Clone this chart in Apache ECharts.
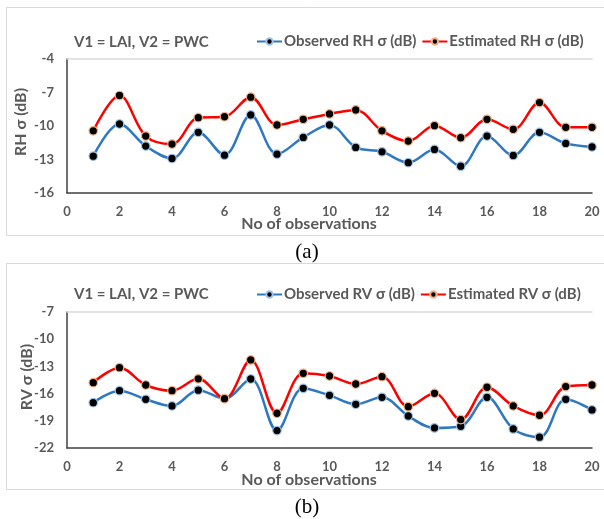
<!DOCTYPE html>
<html><head><meta charset="utf-8">
<script src="https://cdn.jsdelivr.net/npm/echarts@6/dist/echarts.min.js"></script>
<style>html,body{margin:0;padding:0;background:#fff}#c{width:604px;height:519px}</style>
</head><body><div id="c"></div>
<script>
// ---- data ----
const obsNo = [1,2,3,4,5,6,7,8,9,10,11,12,13,14,15,16,17,18,19,20];
const xTicks = [0,2,4,6,8,10,12,14,16,18,20];
const rhTicks = [-4,-7,-10,-13,-16];
const rvTicks = [-7,-10,-13,-16,-19,-22];
const observedRH = [-12.70,-9.82,-11.80,-12.91,-10.57,-12.61,-9.01,-12.52,-11.02,-9.91,-11.92,-12.31,-13.28,-12.10,-13.60,-10.90,-12.64,-10.57,-11.56,-11.87];
const estimatedRH = [-10.43,-7.27,-10.90,-11.62,-9.25,-9.17,-7.42,-9.91,-9.40,-8.92,-8.56,-10.43,-11.35,-9.97,-11.05,-9.40,-10.30,-7.90,-10.12,-10.12];
const observedRV = [-17.00,-15.68,-16.63,-17.36,-15.62,-16.56,-14.39,-20.08,-15.42,-16.19,-17.18,-16.41,-18.47,-19.79,-19.60,-16.41,-19.90,-20.81,-16.63,-17.80];
const estimatedRV = [-14.79,-13.14,-15.05,-15.68,-14.37,-16.56,-12.29,-18.17,-13.76,-14.06,-14.94,-14.13,-17.44,-15.97,-18.87,-15.30,-17.36,-18.39,-15.23,-15.05];
const subtitle = 'V1 = LAI, V2 = PWC';

const FONT = 'Lato, "Liberation Sans", sans-serif';
const GRAY = '#595959';
const BLUE = '#2E78C2';
const RED = '#FF0000';

function pts(vals){ return obsNo.map((x,i)=>[x, vals[i]]); }

const gridA = {left:67, top:59, right:12, height:134};
const gridB = {left:67, top:312, right:12, height:136};

function xAx(gi){
  return {type:'value', gridIndex:gi, min:xTicks[0], max:xTicks[xTicks.length-1], interval:xTicks[1]-xTicks[0],
    axisLine:{show:true, lineStyle:{color:'#404040', width:1.5}}, axisTick:{show:false}, splitLine:{show:false},
    axisLabel:{color:GRAY, fontFamily:FONT, fontWeight:'bold', fontSize:13, margin:12}};
}
function xTop(gi){
  return {type:'value', gridIndex:gi, position:'top', min:xTicks[0], max:xTicks[xTicks.length-1],
    axisLine:{show:true, lineStyle:{color:'#D9D9D9', width:1.5}}, axisTick:{show:false}, axisLabel:{show:false}, splitLine:{show:false}};
}
function yAx(gi, ticks){
  const mx = Math.max(...ticks), mn = Math.min(...ticks);
  return {type:'value', gridIndex:gi, min:mn, max:mx, interval:3,
    axisLine:{show:true, lineStyle:{color:'#404040', width:1.5}}, axisTick:{show:false}, splitLine:{show:false},
    axisLabel:{color:GRAY, fontFamily:FONT, fontWeight:'bold', fontSize:13, margin:13}};
}
function ser(name, vals, xi, yi, color, border){
  return {name, type:'line', xAxisIndex:xi, yAxisIndex:yi, data:pts(vals), smooth:0.35,
    symbol:'circle', symbolSize:8.5, lineStyle:{color, width:2.5},
    itemStyle:{color:'#000', borderColor:border, borderWidth:1.2}, emphasis:{disabled:true}, z:3};
}
function leg(top, names){
  return {left:256, top, itemWidth:25, itemHeight:8, itemGap:5, padding:0,
    textStyle:{color:GRAY, fontFamily:FONT, fontSize:15, fontWeight:'bold', padding:[0,0,0,-3]}, data:names};
}

const chart = echarts.init(document.getElementById('c'), null, {renderer:'canvas'});
chart.setOption({
  animation:false,
  grid:[gridA, gridB],
  xAxis:[xAx(0), xAx(1), xTop(0), xTop(1)],
  yAxis:[yAx(0, rhTicks), yAx(1, rvTicks)],
  legend:[leg(34, ['Observed RH σ (dB)','Estimated RH σ (dB)']), leg(287, ['Observed RV σ (dB)','Estimated RV σ (dB)'])],
  series:[
    ser('Observed RH σ (dB)', observedRH, 0, 0, BLUE, '#9DC3E6'),
    ser('Estimated RH σ (dB)', estimatedRH, 0, 0, RED, '#F4B183'),
    ser('Observed RV σ (dB)', observedRV, 1, 1, BLUE, '#9DC3E6'),
    ser('Estimated RV σ (dB)', estimatedRV, 1, 1, RED, '#F4B183')
  ],
  graphic:[
    {type:'rect', shape:{x:6.5, y:7.5, width:600, height:228}, style:{fill:null, stroke:'#D9D9D9', lineWidth:1}, silent:true},
    {type:'rect', shape:{x:6.5, y:263.5, width:600, height:226}, style:{fill:null, stroke:'#D9D9D9', lineWidth:1}, silent:true},
    {type:'text', left:74, top:35, style:{text:subtitle, fill:GRAY, font:'bold 15px '+FONT}},
    {type:'text', left:74, top:287, style:{text:subtitle, fill:GRAY, font:'bold 15px '+FONT}},
    {type:'text', x:21, y:122, rotation:Math.PI/2, style:{text:'RH σ (dB)', fill:GRAY, font:'bold 16px '+FONT, align:'center', verticalAlign:'middle'}},
    {type:'text', x:27, y:377, rotation:Math.PI/2, style:{text:'RV σ (dB)', fill:GRAY, font:'bold 16px '+FONT, align:'center', verticalAlign:'middle'}},
    {type:'text', x:309, y:224, style:{text:'No of observations', fill:GRAY, font:'bold 16px '+FONT, align:'center', verticalAlign:'middle'}},
    {type:'text', x:309, y:480, style:{text:'No of observations', fill:GRAY, font:'bold 16px '+FONT, align:'center', verticalAlign:'middle'}},
    {type:'text', x:307, y:252, style:{text:'(a)', fill:'#000', font:'21px "Liberation Serif", serif', align:'center', verticalAlign:'middle'}},
    {type:'text', x:307, y:507, style:{text:'(b)', fill:'#000', font:'21px "Liberation Serif", serif', align:'center', verticalAlign:'middle'}}
  ]
});
</script></body></html>
